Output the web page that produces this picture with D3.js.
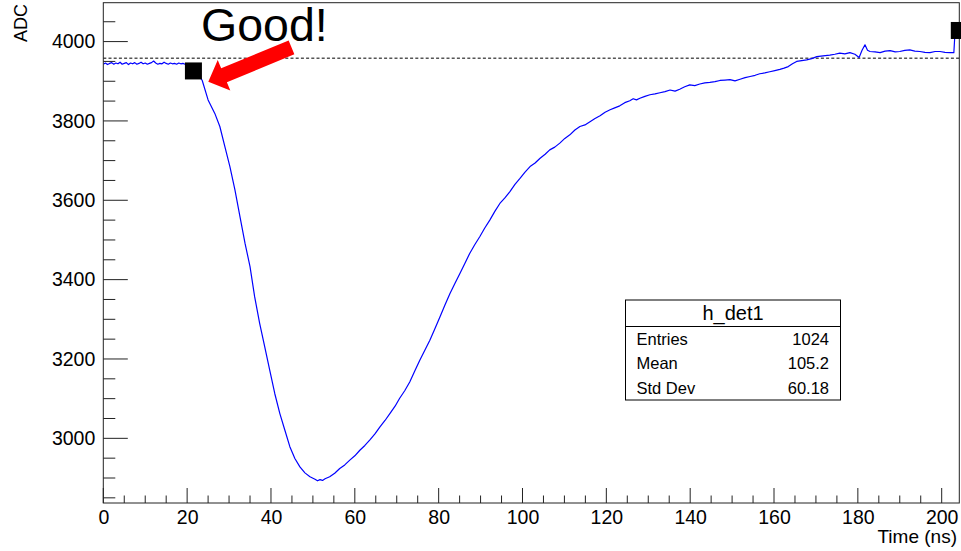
<!DOCTYPE html>
<html>
<head>
<meta charset="utf-8">
<script src="https://cdn.jsdelivr.net/npm/d3@7/dist/d3.min.js"></script>
<style>
  html, body { margin: 0; padding: 0; background: #fff; }
  svg { display: block; font-family: "Liberation Sans", Arial, Helvetica, sans-serif; }
</style>
</head>
<body>
<svg id="chart" width="961" height="551"></svg>
<script>
// ---- data ----
const timeNs = [
  0,0.5,1,1.5,2,2.5,3,3.5,4,4.5,5,5.5,6,6.5,7,7.5,8,8.5,9,9.5,10,10.5,11,11.5,12,12.5,13,13.5,14,14.5,
  15,15.5,16,16.5,17,17.5,18,18.5,19,19.5,20,20.5,21,21.5,22,22.8,23.6,25.0,26.6,27.8,29.0,30.2,31.4,32.6,
  33.8,35.0,36.1,37.3,38.5,39.7,40.9,42.1,43.3,44.5,45.7,46.9,48.1,49.3,50.5,51.1,51.7,52.3,52.9,54.0,
  55.2,56.4,57.6,58.8,60.0,61.2,62.4,63.6,64.8,66.0,67.2,68.4,69.6,70.7,71.9,73.1,74.3,75.5,76.7,77.9,
  79.1,80.3,81.5,82.7,83.9,85.1,86.3,87.4,88.6,89.8,91.0,92.2,93.4,94.6,95.8,97.0,98.2,99.4,100.6,101.8,
  103.0,104.2,105.4,106.5,107.7,108.9,110.1,111.3,112.5,113.7,114.9,116.1,117.3,118.5,119.7,120.9,122.0,
  123.2,124.4,125.6,126.4,127.2,128.0,129.2,130.4,131.6,132.8,134.0,135.2,136.4,137.5,138.7,139.9,141.1,
  142.3,143.5,144.7,145.9,147.1,148.3,149.5,150.7,151.9,153.1,154.3,155.5,156.6,157.8,159.0,160.2,161.4,
  162.4,163.4,164.4,165.4,166.6,167.8,169.0,170.2,171.7,173.3,174.5,175.7,176.9,178.1,179.3,180.3,181.0,
  181.7,182.3,182.9,184.1,185.3,186.5,187.7,188.9,190.0,191.2,192.4,193.6,194.8,196.0,197.2,198.4,199.6,
  200.8,202.0,202.9,203.2,204.2
];
const adcValue = [
  3943,3946,3942,3945,3947,3943,3946,3944,3948,3943,3945,3947,3942,3946,3944,3947,3943,3945,3948,3944,
  3946,3943,3945,3947,3951,3946,3943,3945,3944,3948,3945,3943,3946,3944,3945,3943,3946,3944,3945,3943,
  3944,3942,3941,3936,3928,3916,3902,3853,3819,3786,3735,3685,3626,3559,3492,3433,3357,3290,3231,3172,
  3113,3063,3021,2979,2949,2928,2913,2903,2897,2893,2896,2894,2898,2903,2912,2924,2933,2945,2956,2970,
  2982,2996,3011,3029,3045,3063,3081,3101,3120,3142,3170,3197,3222,3247,3276,3306,3336,3365,3391,3416,
  3442,3466,3488,3508,3530,3550,3572,3592,3606,3622,3640,3655,3671,3685,3694,3706,3716,3727,3734,3744,
  3756,3765,3777,3786,3790,3798,3806,3813,3822,3828,3833,3838,3846,3851,3856,3853,3857,3862,3866,3868,
  3871,3874,3878,3875,3880,3886,3891,3889,3893,3896,3897,3899,3902,3903,3904,3901,3905,3909,3912,3915,
  3919,3921,3924,3927,3930,3933,3937,3944,3950,3952,3954,3957,3962,3964,3966,3968,3971,3969,3972,3968,
  3960,3978,3992,3978,3975,3974,3972,3976,3977,3974,3975,3978,3979,3976,3975,3973,3972,3975,3975,3973,
  3972,3972,4028,4028
];
const levelADC = [3958];
const markerTime = [21.5, 204.2];
const markerADC = [3926, 4028];
const xTicks = [0, 20, 40, 60, 80, 100, 120, 140, 160, 180, 200];
const yTicks = [3000, 3200, 3400, 3600, 3800, 4000];
const statTitle = "h_det1";
const statNames = ["Entries", "Mean", "Std Dev"];
const statValues = ["1024", "105.2", "60.18"];
const xTitle = "Time (ns)";
const yTitle = "ADC";
const noteText = "Good!";

// ---- layout ----
const pL = 103.3, pR = 959.3, pT = 2.7, pB = 503;
const svg = d3.select("#chart");
const x = d3.scaleLinear().domain([0, 204.2]).range([pL, pR]);
const y = d3.scaleLinear().domain([2837, 4098]).range([pB, pT]);

svg.append("defs").append("clipPath").attr("id", "clip")
  .append("rect").attr("x", pL).attr("y", pT).attr("width", pR - pL).attr("height", pB - pT);

// dashed level line
svg.append("line")
  .attr("x1", pL).attr("x2", pR)
  .attr("y1", y(levelADC[0])).attr("y2", y(levelADC[0]))
  .attr("stroke", "#555").attr("stroke-width", 1.3).attr("stroke-dasharray", "3,2.2");

// waveform
const line = d3.line().x((d, i) => x(timeNs[i])).y(d => y(d));
svg.append("path")
  .datum(adcValue)
  .attr("clip-path", "url(#clip)")
  .attr("d", line)
  .attr("fill", "none")
  .attr("stroke", "#0000ff")
  .attr("stroke-width", 1.2)
  .attr("stroke-linejoin", "round");

// axes
const xMinor = d3.range(0, 204.2, 5).filter(v => v % 20 !== 0);
const yMinor = d3.range(2850, 4098, 50).filter(v => v % 200 !== 0);
const axisColor = "#222";

const xAxis = d3.axisBottom(x).tickValues(xTicks).tickSize(0).tickFormat(d3.format("d"));
const gx = svg.append("g").attr("transform", `translate(0,${pB})`).call(xAxis);
gx.select(".domain").remove();
gx.selectAll("text").attr("font-size", 19.5).attr("fill", "#000").attr("dy", null).attr("y", 20.5)
  .attr("font-family", '"Liberation Sans", Arial, sans-serif');
svg.append("g").selectAll("line").data(xTicks).join("line")
  .attr("x1", d => x(d)).attr("x2", d => x(d)).attr("y1", pB).attr("y2", pB - 15)
  .attr("stroke", axisColor).attr("stroke-width", 1);
svg.append("g").selectAll("line").data(xMinor).join("line")
  .attr("x1", d => x(d)).attr("x2", d => x(d)).attr("y1", pB).attr("y2", pB - 7.5)
  .attr("stroke", axisColor).attr("stroke-width", 1);

const yAxis = d3.axisLeft(y).tickValues(yTicks).tickSize(0).tickPadding(8).tickFormat(d3.format("d"));
const gy = svg.append("g").attr("transform", `translate(${pL},0)`).call(yAxis);
gy.select(".domain").remove();
gy.selectAll("text").attr("font-size", 19.5).attr("fill", "#000")
  .attr("font-family", '"Liberation Sans", Arial, sans-serif');
svg.append("g").selectAll("line").data(yTicks).join("line")
  .attr("x1", pL).attr("x2", pL + 24.5).attr("y1", d => y(d)).attr("y2", d => y(d))
  .attr("stroke", axisColor).attr("stroke-width", 1);
svg.append("g").selectAll("line").data(yMinor).join("line")
  .attr("x1", pL).attr("x2", pL + 12).attr("y1", d => y(d)).attr("y2", d => y(d))
  .attr("stroke", axisColor).attr("stroke-width", 1);

// frame
svg.append("rect")
  .attr("x", pL).attr("y", pT).attr("width", pR - pL).attr("height", pB - pT)
  .attr("fill", "none").attr("stroke", axisColor).attr("stroke-width", 1);

// axis titles
svg.append("text").attr("x", 957).attr("y", 542.5).attr("text-anchor", "end")
  .attr("font-size", 19).text(xTitle);
svg.append("text").attr("transform", "translate(27,4) rotate(-90)").attr("text-anchor", "end")
  .attr("font-size", 18).text(yTitle);

// markers
svg.append("g").selectAll("rect").data(markerTime).join("rect")
  .attr("x", d => x(d) - 8.5)
  .attr("y", (d, i) => y(markerADC[i]) - 8.5)
  .attr("width", 17).attr("height", 17)
  .attr("fill", "#000");

// annotation
svg.append("text").attr("x", 201).attr("y", 40.5).attr("font-size", 46.5).attr("fill", "#000").text(noteText);
const arrowPts = [[0,0],[17,-16.5],[17,-7.5],[90,-7.5],[90,7.5],[17,7.5],[17,16.5]];
svg.append("polygon")
  .attr("points", arrowPts.map(p => p.join(",")).join(" "))
  .attr("transform", "translate(208.3,81.7) rotate(-22.4)")
  .attr("fill", "#ff0000");

// stats box
const sb = { x: 625.5, y: 300, w: 215, h: 100, sep: 326.5 };
const stat = svg.append("g");
stat.append("rect").attr("x", sb.x).attr("y", sb.y).attr("width", sb.w).attr("height", sb.h)
  .attr("fill", "#fff").attr("stroke", "#000").attr("stroke-width", 1);
stat.append("line").attr("x1", sb.x).attr("x2", sb.x + sb.w).attr("y1", sb.sep).attr("y2", sb.sep)
  .attr("stroke", "#000").attr("stroke-width", 1);
stat.append("text").attr("x", sb.x + sb.w / 2).attr("y", 320).attr("text-anchor", "middle")
  .attr("font-size", 20).text(statTitle);
const rowY = [344.5, 369, 393.5];
stat.selectAll("text.name").data(statNames).join("text").attr("class", "name")
  .attr("x", 636.5).attr("y", (d, i) => rowY[i]).attr("font-size", 16.5).text(d => d);
stat.selectAll("text.val").data(statValues).join("text").attr("class", "val")
  .attr("x", 829).attr("y", (d, i) => rowY[i]).attr("text-anchor", "end").attr("font-size", 16.5).text(d => d);
</script>
</body>
</html>
